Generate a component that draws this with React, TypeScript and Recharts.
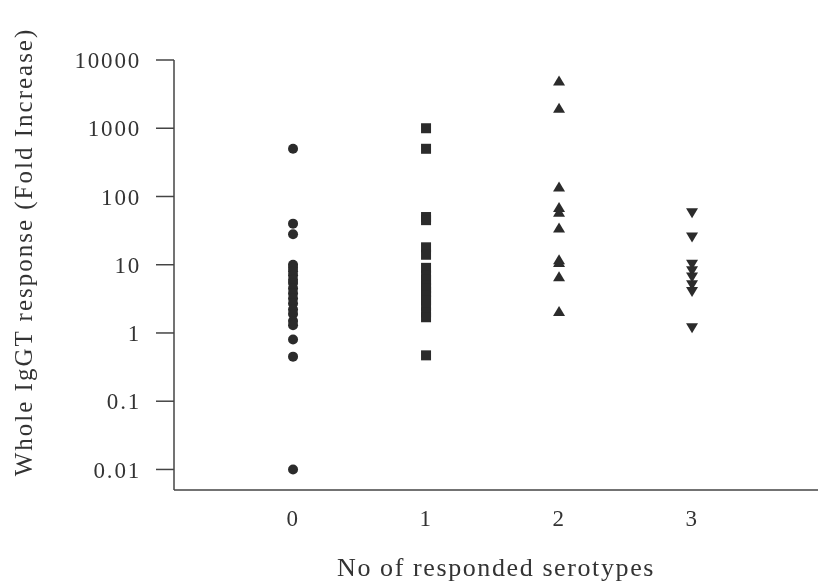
import { ScatterChart, Scatter, XAxis, YAxis, Label } from 'recharts'

// fold increase per group
const group0 = [500, 40, 28, 10, 9, 8, 7, 6, 5.4, 4.5, 3.8, 3.2, 2.7, 2.2, 1.9, 1.5, 1.3, 0.8, 0.45, 0.01]
const group1 = [1000, 500, 50, 45, 18, 14, 9, 7, 6, 5, 4.5, 4, 3.5, 3, 2.5, 2, 1.7, 0.47]
const group2 = [5000, 2000, 140, 70, 60, 35, 12, 11, 6.8, 2.1]
const group3 = [57, 25, 10, 8, 6.5, 5, 4, 1.17]

const xTicks = [0, 1, 2, 3]
const yTicks = [0.01, 0.1, 1, 10, 100, 1000, 10000]

const toPoints = (group: number, values: number[]) => values.map((v) => ({ x: group, y: v }))

const INK = '#2b2b2b'
const AXIS = '#444'
const FONT = '"Liberation Serif", "Times New Roman", serif'

const Dot = (p: any) => <circle cx={p.cx} cy={p.cy} r={5} fill={INK} />
const Square = (p: any) => <rect x={p.cx - 5} y={p.cy - 5} width={10} height={10} fill={INK} />
const TriUp = (p: any) => (
  <polygon points={`${p.cx - 6},${p.cy + 5} ${p.cx + 6},${p.cy + 5} ${p.cx},${p.cy - 5}`} fill={INK} />
)
const TriDown = (p: any) => (
  <polygon points={`${p.cx - 6},${p.cy - 5} ${p.cx + 6},${p.cy - 5} ${p.cx},${p.cy + 5}`} fill={INK} />
)

const YLabel = (props: any) => {
  const { viewBox } = props
  const x = viewBox.x + 15
  const y = viewBox.y + viewBox.height / 2 - 23
  return (
    <text
      x={x}
      y={y}
      transform={`rotate(-90 ${x} ${y})`}
      textAnchor='middle'
      dominantBaseline='central'
      fontFamily={FONT}
      fontSize={25}
      letterSpacing={2}
      fill='#333'
    >
      Whole IgGT response (Fold Increase)
    </text>
  )
}

const tickStyle = { fontFamily: FONT, fontSize: 23, fill: '#333', letterSpacing: 1.8 }

export default function App() {
  // fixed so the chart running to the window edge never adds scrollbars
  return (
    <div style={{ position: 'fixed', left: 8, top: 8, width: 810, height: 573 }}>
      <ScatterChart width={810} height={573} margin={{ top: 52, right: 0, bottom: 0, left: 0 }}>
        <XAxis
          type='number'
          dataKey='x'
          domain={[-0.895, 3.947]}
          ticks={xTicks}
          allowDataOverflow
          height={91}
          tickLine={false}
          tickMargin={14}
          axisLine={{ stroke: AXIS, strokeWidth: 1.5 }}
          tick={tickStyle}
        >
          <Label
            value='No of responded serotypes'
            position='insideBottom'
            offset={5}
            style={{ fontFamily: FONT, fontSize: 26, fill: '#333', letterSpacing: 1.6 }}
          />
        </XAxis>
        <YAxis
          type='number'
          dataKey='y'
          scale='log'
          domain={[0.005, 10000]}
          ticks={yTicks}
          allowDataOverflow
          width={166}
          tickSize={18}
          tickMargin={15}
          axisLine={{ stroke: AXIS, strokeWidth: 1.5 }}
          tickLine={{ stroke: AXIS, strokeWidth: 1.5 }}
          tick={tickStyle}
          label={<YLabel />}
        />
        <Scatter data={toPoints(0, group0)} shape={Dot} isAnimationActive={false} />
        <Scatter data={toPoints(1, group1)} shape={Square} isAnimationActive={false} />
        <Scatter data={toPoints(2, group2)} shape={TriUp} isAnimationActive={false} />
        <Scatter data={toPoints(3, group3)} shape={TriDown} isAnimationActive={false} />
      </ScatterChart>
    </div>
  )
}
